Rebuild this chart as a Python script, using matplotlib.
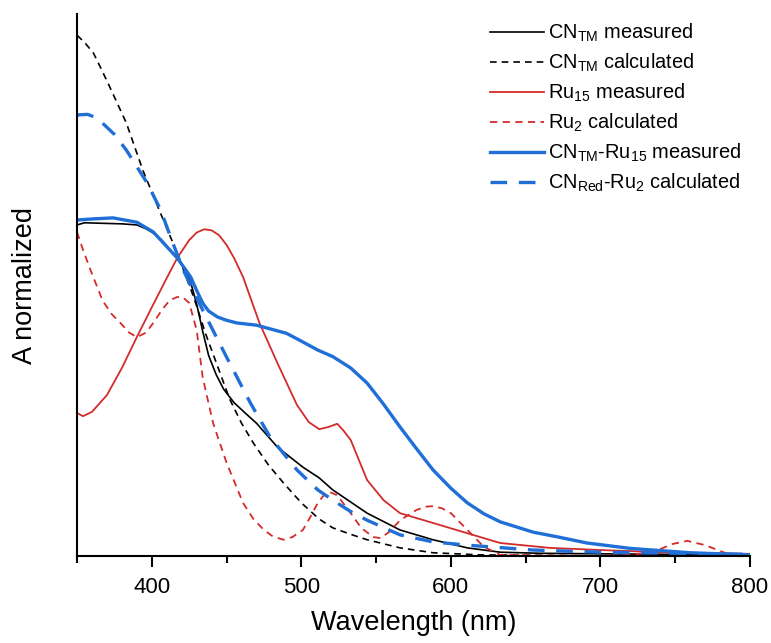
import matplotlib
matplotlib.use('Agg')
import matplotlib.pyplot as plt
from matplotlib.ticker import MultipleLocator

plt.rcParams['font.family'] = ['Liberation Sans', 'DejaVu Sans']
plt.rcParams['mathtext.default'] = 'regular'

# CN_TM measured
cn_meas_x = [350, 355, 367, 380, 390, 396, 401, 407, 412, 417, 422, 426, 430, 434, 438, 443, 448, 455, 462, 470, 484, 501, 512, 521, 544, 566, 588, 611, 633, 660, 700, 750, 800]
cn_meas_y = [0.611, 0.615, 0.614, 0.613, 0.611, 0.604, 0.596, 0.582, 0.565, 0.550, 0.530, 0.505, 0.465, 0.415, 0.370, 0.335, 0.308, 0.283, 0.265, 0.245, 0.201, 0.164, 0.144, 0.122, 0.079, 0.048, 0.030, 0.015, 0.007, 0.005, 0.004, 0.003, 0.002]

# CN_TM calculated
cn_calc_x = [350, 355, 361, 366, 372, 383, 394, 405, 417, 428, 436, 444, 452, 460, 468, 478, 488, 500, 512, 521, 533, 544, 566, 588, 620, 700, 800]
cn_calc_y = [0.961, 0.948, 0.928, 0.900, 0.865, 0.799, 0.712, 0.638, 0.559, 0.478, 0.410, 0.350, 0.290, 0.245, 0.208, 0.168, 0.135, 0.098, 0.068, 0.052, 0.040, 0.030, 0.015, 0.006, 0.002, 0.0, 0.0]

# Ru15 measured
ru_meas_x = [350, 354, 360, 370, 380, 390, 400, 410, 417, 425, 430, 435, 440, 445, 450, 455, 461, 472, 484, 497, 505, 512, 518, 524, 528, 533, 544, 555, 566, 588, 611, 633, 666, 700, 750, 800]
ru_meas_y = [0.264, 0.258, 0.266, 0.297, 0.347, 0.404, 0.459, 0.513, 0.550, 0.583, 0.597, 0.603, 0.601, 0.592, 0.574, 0.550, 0.515, 0.430, 0.356, 0.279, 0.247, 0.234, 0.238, 0.244, 0.232, 0.214, 0.140, 0.103, 0.079, 0.061, 0.042, 0.024, 0.015, 0.011, 0.006, 0.004]

# Ru2 calculated
ru_calc_x = [350, 354, 359, 367, 373, 379, 385, 390, 396, 401, 407, 412, 417, 421, 425, 430, 434, 441, 450, 461, 468, 475, 481, 488, 494, 501, 506, 511, 515, 519, 524, 533, 540, 548, 553, 559, 566, 577, 583, 588, 594, 600, 611, 622, 633, 700, 720, 735, 748, 758, 770, 785, 800]
ru_calc_y = [0.598, 0.565, 0.528, 0.472, 0.447, 0.430, 0.412, 0.404, 0.412, 0.430, 0.455, 0.472, 0.478, 0.477, 0.467, 0.417, 0.330, 0.245, 0.172, 0.098, 0.068, 0.048, 0.036, 0.030, 0.035, 0.048, 0.072, 0.098, 0.112, 0.118, 0.112, 0.079, 0.052, 0.035, 0.033, 0.045, 0.066, 0.085, 0.091, 0.092, 0.088, 0.079, 0.048, 0.017, 0.002, 0.0, 0.002, 0.007, 0.022, 0.028, 0.020, 0.004, 0.0]

# CN_TM-Ru15 measured
mix_meas_x = [350, 360, 374, 390, 401, 412, 417, 426, 430, 434, 438, 444, 450, 457, 470, 490, 499, 511, 521, 533, 544, 555, 566, 577, 588, 600, 611, 622, 633, 655, 670, 691, 720, 760, 800]
mix_meas_y = [0.620, 0.622, 0.624, 0.616, 0.598, 0.565, 0.550, 0.515, 0.490, 0.467, 0.452, 0.441, 0.435, 0.430, 0.426, 0.411, 0.398, 0.380, 0.368, 0.347, 0.319, 0.280, 0.238, 0.198, 0.159, 0.125, 0.098, 0.078, 0.063, 0.044, 0.036, 0.024, 0.014, 0.006, 0.002]

# CN_Red-Ru2 calculated
mix_calc_x = [350, 357, 362, 367, 375, 383, 397, 406, 414, 421, 434, 450, 466, 479, 497, 511, 521, 533, 544, 566, 588, 611, 655, 700, 800]
mix_calc_y = [0.814, 0.815, 0.810, 0.799, 0.778, 0.749, 0.688, 0.638, 0.578, 0.528, 0.454, 0.367, 0.282, 0.220, 0.159, 0.122, 0.103, 0.082, 0.066, 0.039, 0.026, 0.020, 0.011, 0.007, 0.003]

red = '#d42a2a'
blue = '#1f6fd6'

fig = plt.figure(figsize=(7.71, 6.43), dpi=100)
ax = fig.add_axes([0.0999, 0.1353, 0.8729, 0.8427])

ax.plot(cn_meas_x, cn_meas_y, color='black', lw=1.2, label='CN$_{TM}$ measured')
ax.plot(cn_calc_x, cn_calc_y, color='black', lw=1.2, ls=(0, (4, 3)), label='CN$_{TM}$ calculated')
ax.plot(ru_meas_x, ru_meas_y, color=red, lw=1.3, label='Ru$_{15}$ measured')
ax.plot(ru_calc_x, ru_calc_y, color=red, lw=1.3, ls=(0, (4, 3)), label='Ru$_{2}$ calculated')
ax.plot(mix_meas_x, mix_meas_y, color=blue, lw=2.4, label='CN$_{TM}$-Ru$_{15}$ measured')
ax.plot(mix_calc_x, mix_calc_y, color=blue, lw=2.4, ls=(0, (5, 3.5)), label='CN$_{Red}$-Ru$_{2}$ calculated')

ax.set_xlim(350, 800)
ax.set_ylim(0, 1.0)
ax.spines['top'].set_visible(False)
ax.spines['right'].set_visible(False)
ax.spines['left'].set_linewidth(1.5)
ax.spines['bottom'].set_linewidth(1.5)
ax.set_yticks([])
ax.xaxis.set_major_locator(MultipleLocator(100))
ax.xaxis.set_minor_locator(MultipleLocator(50))
ax.tick_params(axis='x', which='major', direction='out', length=8, width=1.5, labelsize=16, pad=7)
ax.tick_params(axis='x', which='minor', direction='out', length=5, width=1.5)

ax.set_xlabel('Wavelength (nm)', fontsize=19.5, labelpad=9)
ax.set_ylabel('A normalized', fontsize=19.5, labelpad=28)

ax.legend(loc='upper right', frameon=False, fontsize=14.4, handlelength=2.7,
          handletextpad=0.2, labelspacing=0.38, borderaxespad=0.0,
          bbox_to_anchor=(1.0, 1.0))

fig.savefig('out.png', dpi=100)
